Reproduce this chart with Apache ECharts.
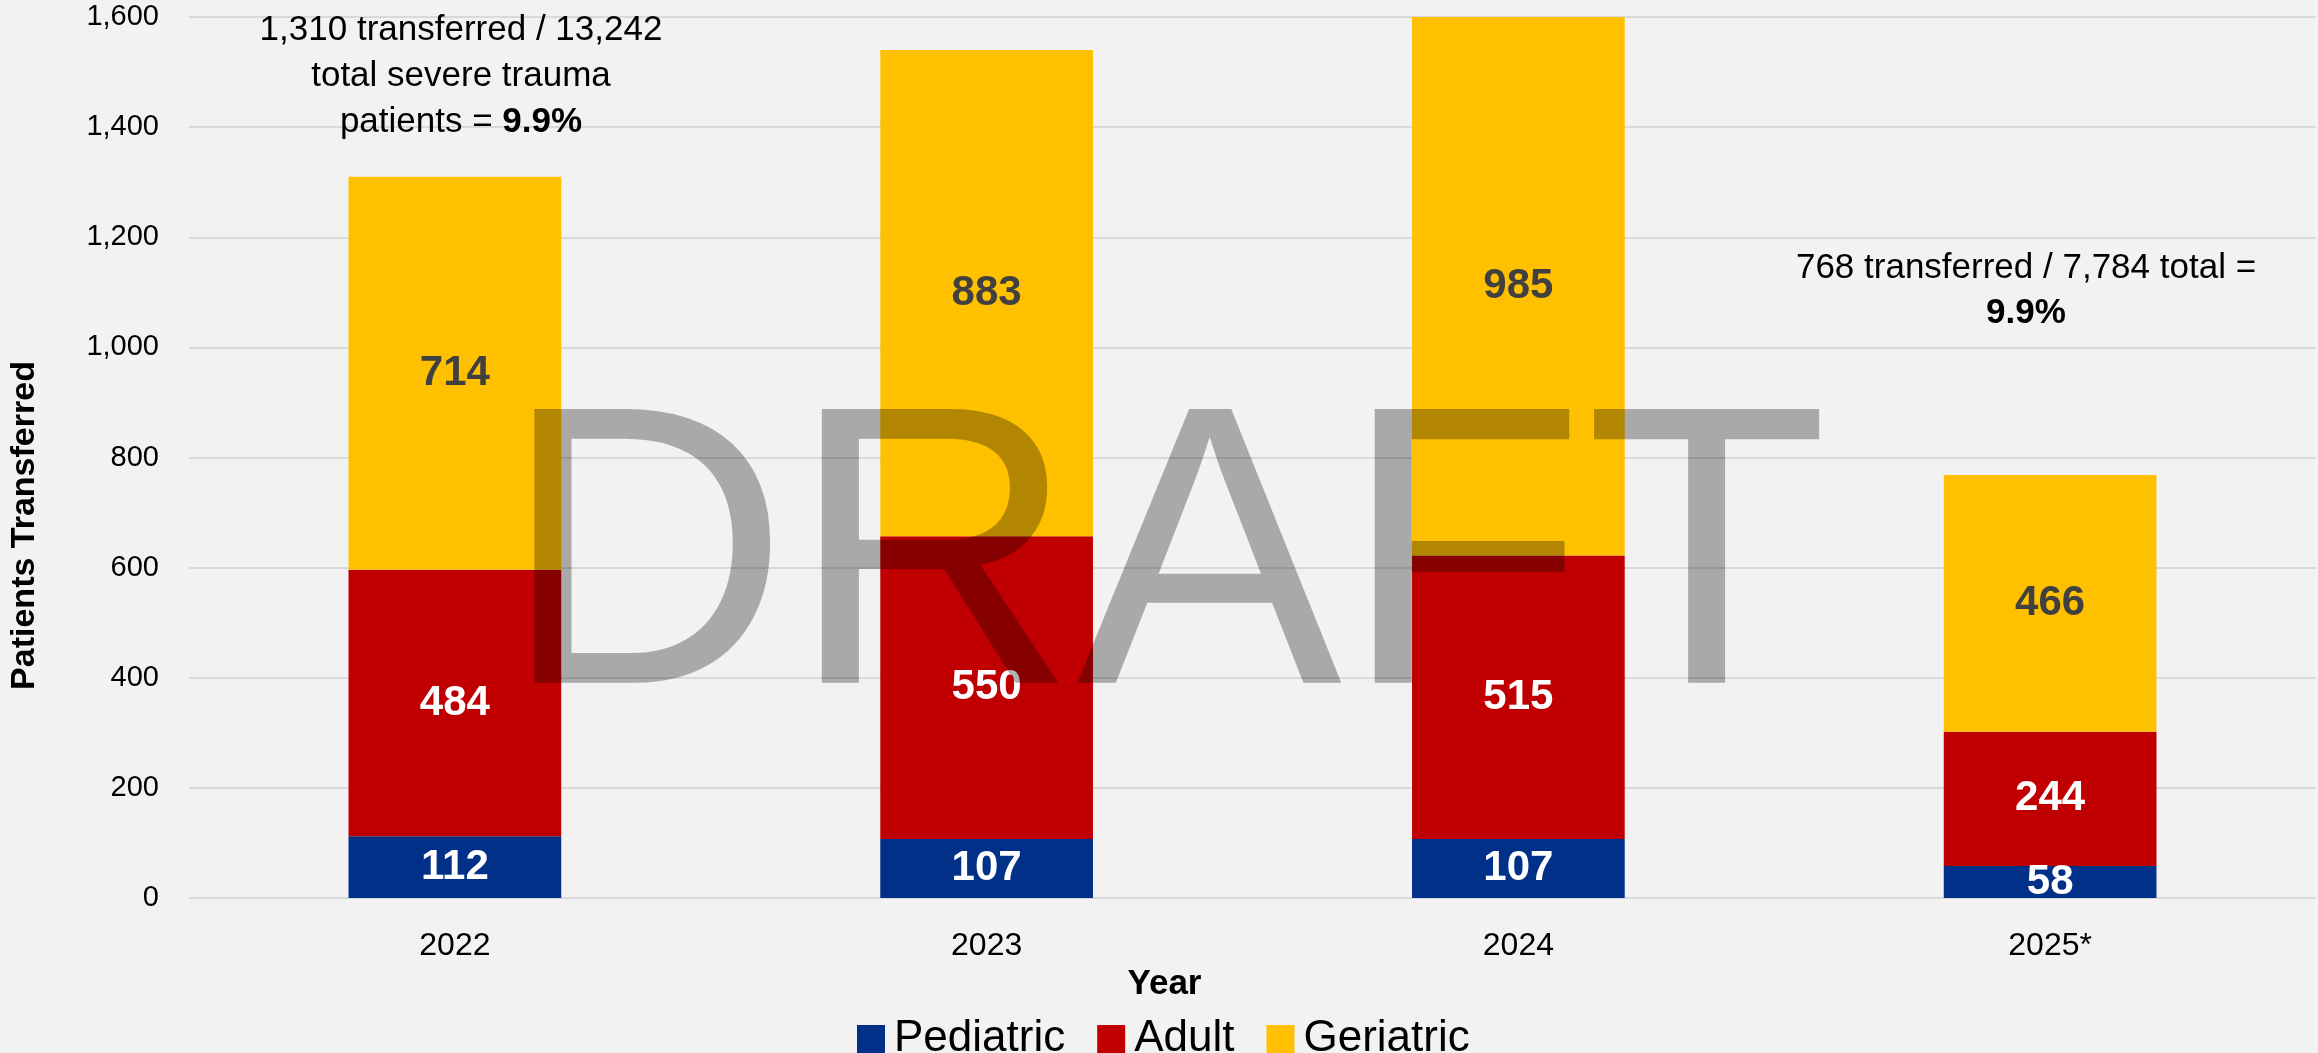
<!DOCTYPE html>
<html>
<head>
<meta charset="utf-8">
<script src="https://cdn.jsdelivr.net/npm/echarts@6/dist/echarts.min.js"></script>
<style>
    html, body {
        margin: 0;
        padding: 0;
        background: #f2f2f2;
    }
    #chart {
        width: 2318px;
        height: 1053px;
    }
</style>
</head>
<body>
<div id="chart"></div>
<script>
    // data
    let years = ['2022', '2023', '2024', '2025*'];
    let pediatric = [112, 107, 107, 58];
    let adult = [484, 550, 515, 244];
    let geriatric = [714, 883, 985, 466];
    let yMax = 1600;
    let yStep = 200;

    let font = 'Liberation Sans, Arial, sans-serif';

    let myChart = echarts.init(document.getElementById('chart'));

    function barSeries(name, data, color, labelColor) {
        return {
            name: name,
            type: 'bar',
            stack: 'total',
            data: data,
            barCategoryGap: '60%',
            itemStyle: {
                color: color
            },
            label: {
                show: true,
                position: 'inside',
                color: labelColor,
                fontFamily: font,
                fontWeight: 'bold',
                fontSize: 42
            }
        };
    }

    let option = {
        backgroundColor: '#f2f2f2',
        textStyle: {
            fontFamily: font
        },
        grid: {
            left: 187,
            right: 2,
            top: 17,
            bottom: 155
        },
        legend: {
            left: 852,
            top: 1012,
            icon: 'rect',
            itemWidth: 28,
            itemHeight: 28,
            itemGap: 32,
            textStyle: {
                fontSize: 44,
                color: '#000',
                fontFamily: font,
                padding: [0, 0, 0, 4]
            },
            data: ['Pediatric', 'Adult', 'Geriatric']
        },
        xAxis: {
            type: 'category',
            data: years,
            name: 'Year',
            nameLocation: 'middle',
            nameGap: 62,
            nameTextStyle: {
                fontSize: 35,
                fontWeight: 'bold',
                color: '#000',
                padding: [0, 176, 0, 0]
            },
            axisLine: {
                show: false
            },
            axisTick: {
                show: false
            },
            axisLabel: {
                fontSize: 32,
                color: '#000',
                margin: 32
            }
        },
        yAxis: {
            type: 'value',
            min: 0,
            max: yMax,
            interval: yStep,
            name: 'Patients Transferred',
            nameLocation: 'middle',
            nameGap: 147,
            nameRotate: 90,
            nameTextStyle: {
                fontSize: 34,
                fontWeight: 'bold',
                color: '#000',
                padding: [0, 136, 0, 0]
            },
            axisLabel: {
                fontSize: 29,
                color: '#000',
                margin: 30,
                formatter: (v) => v.toLocaleString('en-US')
            },
            splitLine: {
                lineStyle: {
                    color: '#d9d9d9',
                    width: 2
                }
            }
        },
        graphic: [
            {
                type: 'text',
                x: 461,
                y: 7,
                z: 10,
                style: {
                    text: '1,310 transferred / 13,242\ntotal severe trauma\npatients = {b|9.9%}',
                    align: 'center',
                    verticalAlign: 'top',
                    font: '35px ' + font,
                    lineHeight: 46,
                    fill: '#000',
                    rich: {
                        b: {
                            fontWeight: 'bold',
                            fontSize: 35,
                            lineHeight: 46
                        }
                    }
                }
            },
            {
                type: 'text',
                x: 2026,
                y: 246,
                z: 10,
                style: {
                    text: '768 transferred / 7,784 total =\n{b|9.9%}',
                    align: 'center',
                    verticalAlign: 'top',
                    font: '35px ' + font,
                    lineHeight: 45,
                    fill: '#000',
                    rich: {
                        b: {
                            fontWeight: 'bold',
                            fontSize: 35,
                            lineHeight: 45
                        }
                    }
                }
            },
            {
                // watermark
                type: 'text',
                x: 1165,
                y: 573,
                z: 50,
                silent: true,
                style: {
                    text: 'DRAFT',
                    align: 'center',
                    verticalAlign: 'middle',
                    font: '398px ' + font,
                    fill: 'rgba(0,0,0,0.3)'
                }
            }
        ],
        series: [
            barSeries('Pediatric', pediatric, '#003087', '#fff'),
            barSeries('Adult', adult, '#c00000', '#fff'),
            barSeries('Geriatric', geriatric, '#ffc000', '#404040')
        ]
    };

    myChart.setOption(option);
</script>
</body>
</html>
